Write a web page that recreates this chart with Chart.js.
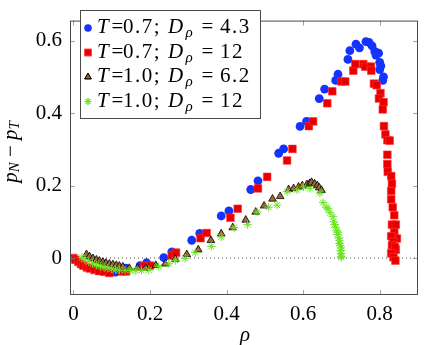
<!DOCTYPE html>
<html>
<head>
<meta charset="utf-8">
<script src="https://cdn.jsdelivr.net/npm/chart.js@4.4.1/dist/chart.umd.min.js"></script>
<style>
	html, body { margin: 0; padding: 0; background: #fff; }
	#wrap { width: 424px; height: 345px; }
</style>
</head>
<body>
<div id="wrap"><canvas id="c" width="424" height="345"></canvas></div>
<script>
// 축 눈금
const xTicks = [0, 0.2, 0.4, 0.6, 0.8];
const yTicks = [0, 0.2, 0.4, 0.6];

// 범례 (T, D_rho)
const seriesT = ['0.7', '0.7', '1.0', '1.0'];
const seriesD = ['4.3', '12', '6.2', '12'];

// T=0.7, D=4.3 (파란 원)
const t07d43 = [
	[0.09, -0.038], [0.11, -0.039], [0.137, -0.028], [0.174, -0.021], [0.191, -0.013],
	[0.236, 0.001], [0.257, 0.017], [0.309, 0.049], [0.330, 0.068], [0.386, 0.116],
	[0.406, 0.130], [0.463, 0.189], [0.482, 0.213], [0.536, 0.289], [0.549, 0.301],
	[0.592, 0.363], [0.609, 0.377], [0.642, 0.44], [0.656, 0.466], [0.685, 0.49],
	[0.691, 0.507], [0.717, 0.548], [0.722, 0.572], [0.738, 0.59], [0.747, 0.58],
	[0.764, 0.597], [0.772, 0.595], [0.78, 0.585], [0.787, 0.57], [0.797, 0.565],
	[0.79, 0.56], [0.80, 0.54], [0.803, 0.53], [0.80, 0.52], [0.81, 0.50], [0.808, 0.49]
];

// T=0.7, D=12 (빨간 사각형)
const t07d12 = [
	[0.0, 0.0], [0.005, -0.005], [0.013, -0.011], [0.02, -0.017], [0.026, -0.021],
	[0.035, -0.026], [0.043, -0.029], [0.055, -0.033], [0.067, -0.036], [0.08, -0.038],
	[0.094, -0.041], [0.128, -0.037], [0.137, -0.037], [0.185, -0.023], [0.20, -0.021],
	[0.257, 0.007], [0.268, 0.015], [0.332, 0.055], [0.348, 0.069], [0.410, 0.111],
	[0.429, 0.136], [0.482, 0.192], [0.506, 0.224], [0.558, 0.269], [0.572, 0.301],
	[0.615, 0.364], [0.626, 0.377], [0.663, 0.427], [0.676, 0.46], [0.70, 0.487],
	[0.71, 0.487], [0.731, 0.517], [0.736, 0.535], [0.757, 0.535], [0.762, 0.528],
	[0.777, 0.528], [0.778, 0.517], [0.785, 0.481], [0.792, 0.477], [0.802, 0.455],
	[0.798, 0.44], [0.81, 0.43], [0.808, 0.41], [0.811, 0.364], [0.815, 0.341],
	[0.82, 0.325], [0.826, 0.324], [0.82, 0.285], [0.82, 0.259], [0.821, 0.238],
	[0.83, 0.226], [0.832, 0.205], [0.83, 0.185], [0.83, 0.162], [0.834, 0.14],
	[0.838, 0.118], [0.832, 0.092], [0.842, 0.092], [0.838, 0.071], [0.845, 0.054],
	[0.83, 0.06], [0.835, 0.045], [0.832, 0.035], [0.842, 0.023], [0.84, 0.03],
	[0.83, 0.013], [0.836, 0.002], [0.841, -0.007]
];

// T=1.0, D=6.2 (갈색 삼각형)
const t10d62 = [
	[0.034, 0.01], [0.042, 0.004], [0.051, -0.001], [0.06, -0.005], [0.068, -0.008],
	[0.077, -0.011], [0.085, -0.014], [0.094, -0.016], [0.103, -0.018], [0.112, -0.02],
	[0.12, -0.022], [0.129, -0.024], [0.146, -0.028], [0.167, -0.028], [0.189, -0.028],
	[0.215, -0.02], [0.24, -0.016], [0.266, -0.003], [0.296, 0.01], [0.326, 0.023],
	[0.359, 0.049], [0.386, 0.067], [0.416, 0.084], [0.45, 0.105], [0.476, 0.127],
	[0.498, 0.144], [0.52, 0.163], [0.54, 0.17], [0.562, 0.189], [0.575, 0.192],
	[0.588, 0.196], [0.598, 0.2], [0.61, 0.203], [0.617, 0.206], [0.622, 0.209],
	[0.63, 0.205], [0.637, 0.2], [0.642, 0.194], [0.648, 0.187]
];

// T=1.0, D=12 (초록 별)
const t10d12 = [
	[0.022, 0.002], [0.03, -0.004], [0.04, -0.01], [0.05, -0.015], [0.06, -0.019],
	[0.07, -0.023], [0.08, -0.026], [0.09, -0.028], [0.1, -0.03], [0.11, -0.032],
	[0.12, -0.033], [0.135, -0.034], [0.15, -0.035], [0.163, -0.035], [0.178, -0.034],
	[0.197, -0.033], [0.223, -0.024], [0.249, -0.016], [0.266, -0.007], [0.292, -0.001],
	[0.318, 0.015], [0.36, 0.032], [0.386, 0.058], [0.42, 0.084], [0.455, 0.092],
	[0.48, 0.127], [0.51, 0.14], [0.532, 0.146], [0.558, 0.183], [0.584, 0.188],
	[0.601, 0.196], [0.618, 0.192], [0.644, 0.179], [0.652, 0.153], [0.66, 0.14],
	[0.665, 0.136], [0.67, 0.125], [0.678, 0.114], [0.68, 0.1], [0.682, 0.092],
	[0.685, 0.085], [0.688, 0.075], [0.691, 0.071], [0.69, 0.065], [0.693, 0.055],
	[0.695, 0.049], [0.695, 0.04], [0.697, 0.035], [0.699, 0.028], [0.698, 0.02],
	[0.699, 0.012], [0.7, 0.005], [0.699, 0.002]
];

const SERIF = '"Liberation Serif", "DejaVu Serif", serif';
const FS = 21;
const toXY = arr => arr.map(p => ({ x: p[0], y: p[1] }));

const styles = [
	{ pointStyle: 'circle', radius: 4.4, bg: '#1433ff', border: '#1433ff', bw: 0 },
	{ pointStyle: 'rect', radius: 5.4, bg: '#e80000', border: '#ff3030', bw: 0.6 },
	{ pointStyle: 'triangle', radius: 4.4, bg: '#9a6a35', border: '#000000', bw: 0.8 },
	{ pointStyle: 'star', radius: 4.2, bg: '#66e61a', border: '#66e61a', bw: 1 }
];
const seriesData = [t07d43, t07d12, t10d62, t10d12];

// 축 라벨, 프레임, 눈금, 0 점선, 범례
const decorPlugin = {
	id: 'decor',
	beforeDatasetsDraw(chart) {
		const { ctx, chartArea: a, scales } = chart;
		const y0 = scales.y.getPixelForValue(0);
		ctx.save();
		ctx.strokeStyle = '#222';
		ctx.lineWidth = 0.8;
		ctx.setLineDash([1, 3]);
		ctx.beginPath();
		ctx.moveTo(a.left, y0);
		ctx.lineTo(a.right, y0);
		ctx.stroke();
		ctx.restore();
	},
	afterDatasetsDraw(chart) {
		const { ctx, chartArea: a, scales } = chart;
		ctx.save();
		// 눈금 (안쪽)
		ctx.strokeStyle = '#8a8a8a';
		ctx.lineWidth = 0.8;
		const tl = 5;
		ctx.beginPath();
		xTicks.forEach(v => {
			const px = Math.round(scales.x.getPixelForValue(v)) + 0.5;
			ctx.moveTo(px, a.bottom); ctx.lineTo(px, a.bottom - tl);
			ctx.moveTo(px, a.top); ctx.lineTo(px, a.top + tl);
		});
		yTicks.forEach(v => {
			const py = Math.round(scales.y.getPixelForValue(v)) + 0.5;
			ctx.moveTo(a.left, py); ctx.lineTo(a.left + tl, py);
			ctx.moveTo(a.right, py); ctx.lineTo(a.right - tl, py);
		});
		ctx.stroke();
		// 프레임
		ctx.strokeStyle = '#4a4a4a';
		ctx.lineWidth = 1;
		ctx.strokeRect(a.left + 0.5, a.top + 0.5, a.right - a.left - 1, a.bottom - a.top - 1);

		// 범례
		const lx = 80, ly = 10, lw = 180, lh = 108;
		ctx.fillStyle = '#fff';
		ctx.fillRect(lx, ly, lw, lh);
		ctx.strokeStyle = '#4a4a4a';
		ctx.strokeRect(lx + 0.5, ly + 0.5, lw, lh);
		const markY = [28, 52.5, 77, 101.5];
		const baseY = [33, 57.5, 82, 106.5];
		ctx.textBaseline = 'alphabetic';
		for (let i = 0; i < 4; i++) {
			const st = styles[i];
			ctx.fillStyle = st.bg;
			ctx.strokeStyle = st.border;
			ctx.lineWidth = st.bw;
			Chart.helpers.drawPoint(ctx, { pointStyle: st.pointStyle, radius: st.radius - 0.6, borderWidth: st.bw }, 88, markY[i]);
			if (st.bw) ctx.stroke();
			ctx.fillStyle = '#000';
			const y = baseY[i];
			// [텍스트, 스타일, 크기, x, y오프셋, 자간]
			const parts = [
				['T', 'italic', FS, 97, 0, 0],
				['=', '', FS, 111.5, 0, 0],
				[seriesT[i] + ';', '', FS, 123, 0, 1.5],
				['D', 'italic', FS, 168, 0, 0],
				['\u03C1', 'italic', 15, 185.5, 4, 0],
				['=', '', FS, 201.5, 0, 0],
				[seriesD[i], '', FS, 220, 0, 1.5]
			];
			parts.forEach(p => {
				ctx.font = `${p[1]} ${p[2]}px ${SERIF}`;
				ctx.letterSpacing = p[5] + 'px';
				ctx.fillText(p[0], p[3], y + p[4]);
			});
			ctx.letterSpacing = '0px';
		}

		// x 라벨
		ctx.font = `italic ${FS}px ${SERIF}`;
		ctx.textAlign = 'center';
		ctx.textBaseline = 'middle';
		ctx.fillText('\u03C1', 245, 335);

		// y 라벨: p_N − p_T
		ctx.translate(13, 152);
		ctx.rotate(-Math.PI / 2);
		const yl = [
			['p', 'italic', FS, 0],
			['N', 'italic', 15, 4],
			[' \u2212 ', '', FS, 0],
			['p', 'italic', FS, 0],
			['T', 'italic', 15, 4]
		];
		let tw = 0;
		yl.forEach(p => { ctx.font = `${p[1]} ${p[2]}px ${SERIF}`; tw += ctx.measureText(p[0]).width; });
		let cx = -tw / 2;
		ctx.textAlign = 'left';
		yl.forEach(p => {
			ctx.font = `${p[1]} ${p[2]}px ${SERIF}`;
			ctx.fillText(p[0], cx, p[3] - 2);
			cx += ctx.measureText(p[0]).width;
		});
		ctx.restore();
	}
};

const datasets = seriesData.map((d, i) => ({
	label: 'T=' + seriesT[i] + '; D=' + seriesD[i],
	data: toXY(d),
	showLine: false,
	pointStyle: styles[i].pointStyle,
	pointRadius: styles[i].radius,
	pointBackgroundColor: styles[i].bg,
	pointBorderColor: styles[i].border,
	pointBorderWidth: styles[i].bw,
	order: 4 - i
}));

new Chart(document.getElementById('c'), {
	type: 'scatter',
	data: { datasets },
	options: {
		responsive: false,
		animation: false,
		devicePixelRatio: 1,
		layout: { padding: { left: 0, right: 1, top: 3, bottom: 0 } },
		plugins: { legend: { display: false }, tooltip: { enabled: false } },
		scales: {
			x: {
				type: 'linear',
				min: -0.009, max: 0.9,
				grid: { display: false, drawTicks: false },
				border: { display: false },
				afterBuildTicks: s => { s.ticks = xTicks.map(v => ({ value: v })); },
				afterFit: s => { s.height = 50; },
				ticks: {
					padding: 7,
					color: '#000',
					font: { family: SERIF, size: FS },
					maxRotation: 0,
					callback: v => v === 0 ? '0' : v.toFixed(1)
				}
			},
			y: {
				type: 'linear',
				min: -0.102, max: 0.655,
				grid: { display: false, drawTicks: false },
				border: { display: false },
				afterBuildTicks: s => { s.ticks = yTicks.map(v => ({ value: v })); },
				afterFit: s => { s.width = 70; },
				ticks: {
					padding: 8,
					color: '#000',
					font: { family: SERIF, size: FS },
					callback: v => v === 0 ? '0' : v.toFixed(1)
				}
			}
		}
	},
	plugins: [decorPlugin]
});
</script>
</body>
</html>
